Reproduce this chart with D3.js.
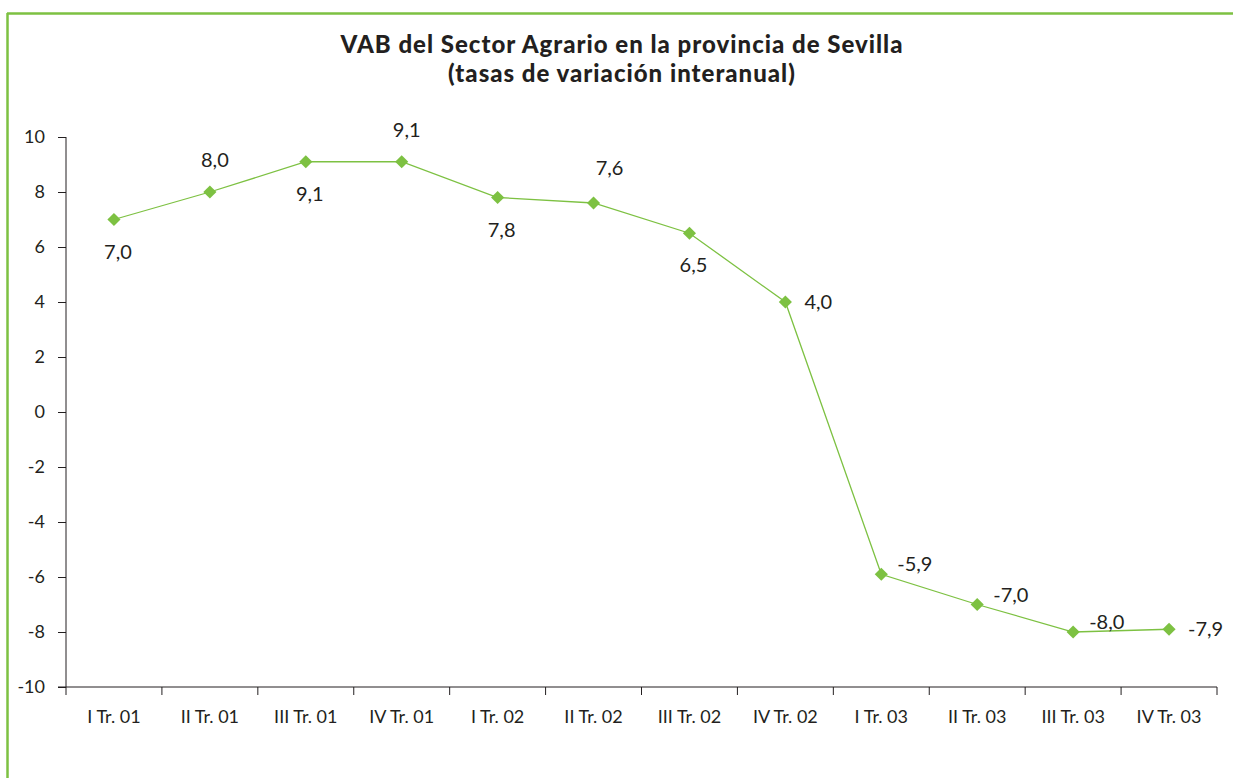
<!DOCTYPE html>
<html><head><meta charset="utf-8">
<script src="https://cdn.jsdelivr.net/npm/d3@7"></script>
<style>html,body{margin:0;padding:0;background:#fff;}svg{display:block;}</style>
</head><body>
<svg id="c" width="1233" height="778"></svg>
<script>
const categories = ["I Tr. 01","II Tr. 01","III Tr. 01","IV Tr. 01","I Tr. 02","II Tr. 02","III Tr. 02","IV Tr. 02","I Tr. 03","II Tr. 03","III Tr. 03","IV Tr. 03"];
const values = [7.0, 8.0, 9.1, 9.1, 7.8, 7.6, 6.5, 4.0, -5.9, -7.0, -8.0, -7.9];
const labels = ["7,0","8,0","9,1","9,1","7,8","7,6","6,5","4,0","-5,9","-7,0","-8,0","-7,9"];
const labelPos = ["below","above","below","above","below","aboveR","below","right","rightUp","rightUp","rightUp","right"];
const yTicks = [10,8,6,4,2,0,-2,-4,-6,-8,-10];
const titleLines = ["VAB del Sector Agrario en la provincia de Sevilla","(tasas de variación interanual)"];

const green = "#7dc142";
const font = "Lato, 'Open Sans', sans-serif";
const svg = d3.select("#c");

// frame lines
svg.append("line").attr("x1",7).attr("x2",1233).attr("y1",13.5).attr("y2",13.5).attr("stroke",green).attr("stroke-width",2.5);
svg.append("line").attr("x1",7.5).attr("x2",7.5).attr("y1",13).attr("y2",778).attr("stroke",green).attr("stroke-width",2.5);

const x = d3.scaleBand().domain(categories).range([66,1217]);
const y = d3.scaleLinear().domain([-10,10]).range([687,137]);

// title
svg.append("g").selectAll("text").data(titleLines).join("text")
  .attr("x",622).attr("y",(d,i)=>53+i*29).attr("text-anchor","middle")
  .attr("font-family",font).attr("font-weight",900).attr("font-size",24).attr("letter-spacing",1)
  .attr("fill","#231f20").text(d=>d);

// y axis
const ya = svg.append("g").attr("transform","translate(66,0)")
  .call(d3.axisLeft(y).tickValues(yTicks).tickSize(8).tickPadding(13).tickFormat(d=>d));
ya.select(".domain").attr("stroke","#231f20").attr("d","M0,137V687");
ya.selectAll(".tick line").attr("stroke","#231f20");
ya.selectAll("text").attr("font-family",font).attr("font-size",18).attr("fill","#231f20");

// x axis
const xa = svg.append("g").attr("transform","translate(0,687)")
  .call(d3.axisBottom(x).tickSize(0).tickPadding(23));
xa.select(".domain").attr("stroke","#231f20").attr("d","M58,0H1217");
xa.selectAll("text").attr("font-family",font).attr("font-size",18).attr("fill","#231f20");
const bounds = categories.map(c=>x(c)).concat([x.range()[1]]);
svg.append("g").selectAll("line").data(bounds).join("line")
  .attr("x1",d=>d).attr("x2",d=>d).attr("y1",687).attr("y2",695).attr("stroke","#231f20");

const cx = c => x(c)+x.bandwidth()/2;

// line
svg.append("path").datum(values)
  .attr("d", d3.line().x((d,i)=>cx(categories[i])).y(d=>y(d)))
  .attr("fill","none").attr("stroke",green).attr("stroke-width",1.3);

// markers
svg.append("g").selectAll("path").data(values).join("path")
  .attr("transform",(d,i)=>`translate(${cx(categories[i])},${y(d)})`)
  .attr("d", d3.symbol(d3.symbolDiamond2, 110)())
  .attr("fill",green);

// labels
svg.append("g").selectAll("text").data(values).join("text")
  .attr("font-family",font).attr("font-size",20).attr("fill","#231f20")
  .each(function(d,i){
    const px = cx(categories[i]), py = y(d);
    const p = labelPos[i];
    const t = d3.select(this).text(labels[i]);
    if(p==="below"){ t.attr("x",px+4).attr("y",py+39).attr("text-anchor","middle"); }
    else if(p==="above"){ t.attr("x",px+5).attr("y",py-25).attr("text-anchor","middle"); }
    else if(p==="aboveR"){ t.attr("x",px+16).attr("y",py-28).attr("text-anchor","middle"); }
    else if(p==="right"){ t.attr("x",px+19).attr("y",py+7).attr("text-anchor","start"); }
    else { t.attr("x",px+16).attr("y",py-3).attr("text-anchor","start"); }
  });
</script>
</body></html>
